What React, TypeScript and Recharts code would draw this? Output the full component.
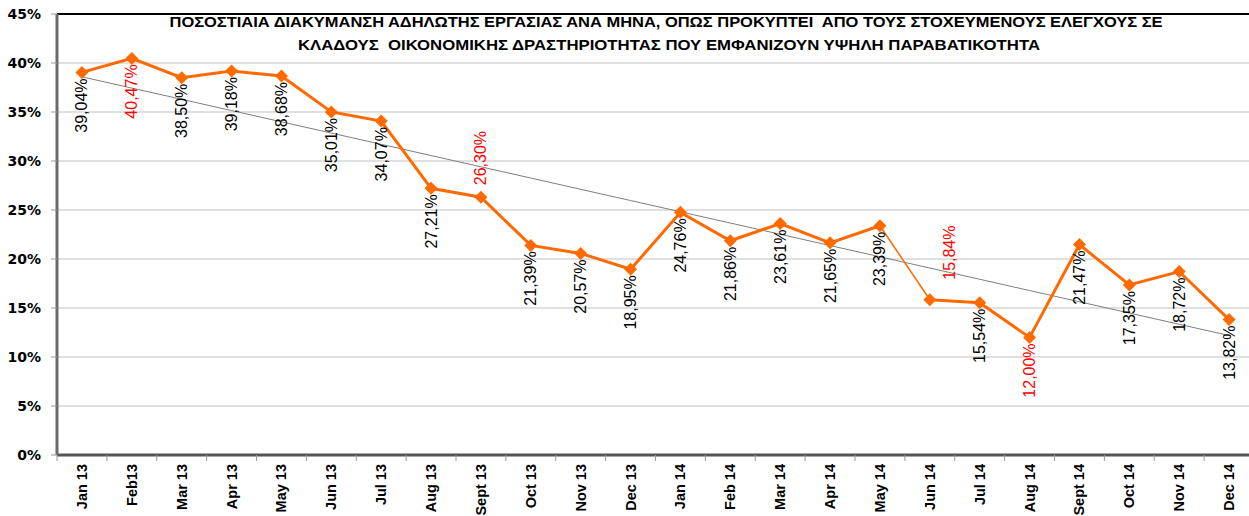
import { LineChart, Line, XAxis, YAxis, CartesianGrid, ReferenceLine } from "recharts";

const months = [
  "Jan 13", "Feb13", "Mar 13", "Apr 13", "May 13", "Jun 13", "Jul 13", "Aug 13",
  "Sept 13", "Oct 13", "Nov 13", "Dec 13", "Jan 14", "Feb 14", "Mar 14", "Apr 14",
  "May 14", "Jun 14", "Jul 14", "Aug 14", "Sept 14", "Oct 14", "Nov 14", "Dec 14",
];
const rates = [
  39.04, 40.47, 38.5, 39.18, 38.68, 35.01, 34.07, 27.21, 26.3, 21.39, 20.57, 18.95,
  24.76, 21.86, 23.61, 21.65, 23.39, 15.84, 15.54, 12.0, 21.47, 17.35, 18.72, 13.82,
];
const redLabels = ["Feb13", "Sept 13", "Jun 14", "Aug 14"];
const yTicks = [0, 5, 10, 15, 20, 25, 30, 35, 40, 45];
const titleLines = [
  "ΠΟΣΟΣΤΙΑΙΑ ΔΙΑΚΥΜΑΝΣΗ ΑΔΗΛΩΤΗΣ ΕΡΓΑΣΙΑΣ ΑΝΑ ΜΗΝΑ, ΟΠΩΣ ΠΡΟΚΥΠΤΕΙ  ΑΠΟ ΤΟΥΣ ΣΤΟΧΕΥΜΕΝΟΥΣ ΕΛΕΓΧΟΥΣ ΣΕ",
  "ΚΛΑΔΟΥΣ  ΟΙΚΟΝΟΜΙΚΗΣ ΔΡΑΣΤΗΡΙΟΤΗΤΑΣ ΠΟΥ ΕΜΦΑΝΙΖΟΥΝ ΥΨΗΛΗ ΠΑΡΑΒΑΤΙΚΟΤΗΤΑ",
];

// where the thin connector starts (May 14 -> Jun 14)
const thinIdx = months.indexOf("May 14");
// labels not placed below their point
const labelPlacement: Record<string, "above" | "offset"> = {
  "Sept 13": "above",
  "Jun 14": "offset",
};

// linear trendline (least squares)
const n = rates.length;
const mx = (n - 1) / 2;
const my = rates.reduce((s, v) => s + v, 0) / n;
let sxy = 0;
let sxx = 0;
rates.forEach((v, i) => {
  sxy += (i - mx) * (v - my);
  sxx += (i - mx) * (i - mx);
});
const slope = sxy / sxx;

const data = months.map((m, i) => ({
  month: m,
  value: rates[i],
  a: i <= thinIdx ? rates[i] : null,
  b: i > thinIdx ? rates[i] : null,
  thin: i === thinIdx || i === thinIdx + 1 ? rates[i] : null,
  trend: my + slope * (i - mx),
}));

const W = 1270;
const H = 516;
const X_AXIS_H = 61;
const Y_AXIS_W = 57;
const MARGIN = { top: 14, right: 16, bottom: 0, left: 0 };
const AXIS_Y = H - X_AXIS_H;
const BAND = (W - Y_AXIS_W - MARGIN.right) / months.length;
const ORANGE = "#FF6A00";

const fmt = (v: number) => v.toFixed(2).replace(".", ",") + "%";

function Diamond(props: any) {
  const { cx, cy, index } = props;
  if (cx == null || cy == null) return <g key={`e${index}`} />;
  const r = 6.5;
  return (
    <polygon
      key={`d${index}`}
      points={`${cx},${cy - r} ${cx + r},${cy} ${cx},${cy + r} ${cx - r},${cy}`}
      fill={ORANGE}
    />
  );
}

function MonthTick(props: any) {
  const { x, payload } = props;
  return (
    <g>
      <line x1={x - BAND / 2} y1={AXIS_Y} x2={x - BAND / 2} y2={AXIS_Y + 6} stroke="#999" strokeWidth={1} />
      <text
        x={x}
        y={AXIS_Y + 9}
        transform={`rotate(-90 ${x} ${AXIS_Y + 9})`}
        textAnchor="end"
        dominantBaseline="central"
        fontFamily="Liberation Sans, Arial, sans-serif"
        fontWeight={700}
        fontSize={14.5}
        fill="#000"
      >
        {payload.value}
      </text>
    </g>
  );
}

function ValueLabel(props: any) {
  const { x, y, value, index } = props;
  if (x == null || y == null) return null;
  const m = months[index];
  const place = labelPlacement[m];
  let tx = x;
  let ty = y + 6;
  let anchor = "end";
  if (place === "above") {
    ty = y - 12;
    anchor = "start";
  } else if (place === "offset") {
    tx = x + 20;
    ty = y - 20;
    anchor = "start";
  }
  return (
    <text
      key={`l${index}`}
      x={tx}
      y={ty}
      transform={`rotate(-90 ${tx} ${ty})`}
      textAnchor={anchor}
      dominantBaseline="central"
      fontFamily="Liberation Sans, Arial, sans-serif"
      fontSize={16}
      fill={redLabels.includes(m) ? "#FF0000" : "#000"}
    >
      {fmt(value)}
    </text>
  );
}

export default function App() {
  return (
    <div style={{ position: "absolute", left: 0, top: 0, width: 1249, height: H, overflow: "hidden", background: "#fff" }}>
      <LineChart width={W} height={H} data={data} margin={MARGIN}>
        <CartesianGrid vertical={false} stroke="#d6d6d6" strokeWidth={1.5} />
        <XAxis
          dataKey="month"
          interval={0}
          height={X_AXIS_H}
          padding={{ left: BAND / 2, right: BAND / 2 }}
          tick={<MonthTick />}
          tickLine={false}
          axisLine={{ stroke: "#555", strokeWidth: 3 }}
        />
        <YAxis
          domain={[0, 45]}
          ticks={yTicks}
          width={Y_AXIS_W}
          tickFormatter={(v: number) => `${v}%`}
          tickSize={6}
          tickMargin={10}
          tickLine={{ stroke: "#999" }}
          axisLine={{ stroke: "#6b6b6b", strokeWidth: 3 }}
          tick={{ fontFamily: "DejaVu Sans", fontWeight: 700, fontSize: 14, fill: "#000" }}
        />
        <ReferenceLine y={45} stroke="#000" strokeWidth={2} />
        <Line dataKey="trend" stroke="#7f7f7f" strokeWidth={1} dot={false} isAnimationActive={false} />
        <Line dataKey="thin" stroke={ORANGE} strokeWidth={1.5} dot={false} isAnimationActive={false} />
        <Line dataKey="a" stroke={ORANGE} strokeWidth={3} dot={Diamond} activeDot={false} isAnimationActive={false} />
        <Line dataKey="b" stroke={ORANGE} strokeWidth={3} dot={Diamond} activeDot={false} isAnimationActive={false} />
        <Line
          dataKey="value"
          stroke="none"
          dot={false}
          activeDot={false}
          label={ValueLabel}
          isAnimationActive={false}
        />
      </LineChart>
      <svg width={1249} height={60} style={{ position: "absolute", left: 0, top: 0, pointerEvents: "none" }}>
        <text
          x={666}
          y={27}
          textAnchor="middle"
          textLength={993}
          lengthAdjust="spacingAndGlyphs"
          fontFamily="Liberation Sans, Arial, sans-serif"
          fontWeight={700}
          fontSize={14}
          style={{ whiteSpace: "pre" }}
        >
          {titleLines[0]}
        </text>
        <text
          x={669}
          y={50}
          textAnchor="middle"
          textLength={742}
          lengthAdjust="spacingAndGlyphs"
          fontFamily="Liberation Sans, Arial, sans-serif"
          fontWeight={700}
          fontSize={14}
          style={{ whiteSpace: "pre" }}
        >
          {titleLines[1]}
        </text>
      </svg>
    </div>
  );
}
